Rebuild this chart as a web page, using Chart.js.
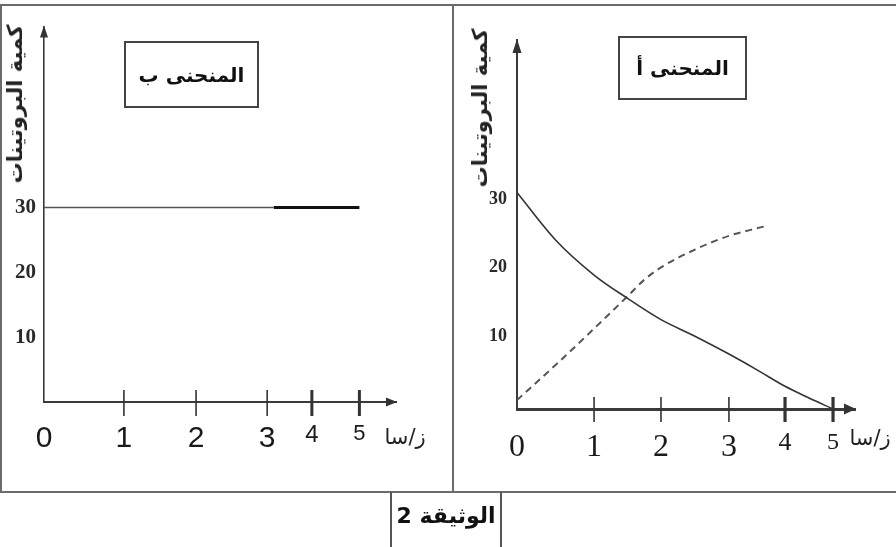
<!DOCTYPE html>
<html lang="ar">
<head>
<meta charset="utf-8">
<script src="https://cdn.jsdelivr.net/npm/chart.js@4.4.1/dist/chart.umd.min.js"></script>
<style>
  html, body { margin: 0; padding: 0; background: #fff; }
  #page { position: relative; width: 896px; height: 547px; overflow: hidden; background: #fff; }
  .rule { position: absolute; background: #6b6b6b; }
  canvas { position: absolute; }
  .ytitle { position: absolute; font-family: "DejaVu Sans", sans-serif; font-weight: bold; font-size: 21px;
            white-space: nowrap; direction: rtl; color: #222;
            transform: translate(-50%, -50%) rotate(-90deg); }
  .tag { position: absolute; box-sizing: border-box; border: 2px solid #444; display: flex;
         align-items: center; justify-content: center; font-family: "DejaVu Sans", sans-serif;
         font-weight: bold; font-size: 20px; direction: rtl; color: #111; }
  .unit { position: absolute; font-family: "DejaVu Sans", sans-serif; font-size: 21px; direction: rtl;
          color: #222; white-space: nowrap; transform: translate(-50%, -50%); }
  .caption { position: absolute; box-sizing: border-box; border-left: 2px solid #555; border-right: 2px solid #555;
             display: flex; justify-content: center; font-family: "DejaVu Sans", sans-serif; font-weight: bold;
             font-size: 22px; direction: rtl; color: #111; padding-top: 11px; }
</style>
</head>
<body>
<div id="page">
  <div class="rule" style="left:0;top:4px;width:896px;height:2px"></div>
  <div class="rule" style="left:0;top:4px;width:2px;height:489px"></div>
  <div class="rule" style="left:0;top:491px;width:896px;height:2px"></div>
  <div class="rule" style="left:452px;top:4px;width:2px;height:489px"></div>

  <canvas id="chartB" width="450" height="485" style="left:2px;top:6px"></canvas>
  <canvas id="chartA" width="442" height="485" style="left:454px;top:6px"></canvas>

  <div class="ytitle" style="left:15px;top:104px">كمية البروتينات</div>
  <div class="ytitle" style="left:480px;top:108px">كمية البروتينات</div>

  <div class="tag" style="left:124px;top:41px;width:135px;height:67px">المنحنى ب</div>
  <div class="tag" style="left:618px;top:36px;width:129px;height:64px">المنحنى أ</div>

  <div class="unit" style="left:405px;top:437px">ز/سا</div>
  <div class="unit" style="left:870px;top:438px">ز/سا</div>

  <div class="caption" style="left:390px;top:492px;width:112px;height:60px">الوثيقة 2</div>
</div>

<script>
// ---------- data ----------
const xTickValues = [0, 1, 2, 3, 4, 5];
const yTickValues = [10, 20, 30];

// curve B (left panel): constant protein amount
const timeB = [0, 3.15, 5];
const proteinB = [30, 30, 30];

// curve A (right panel): solid decreasing curve
const timeA1 = [0, 0.5, 1, 1.5, 2, 2.5, 3, 3.5, 4, 4.5, 5];
const proteinA1 = [31.5, 24.6, 19.5, 16.1, 13.0, 10.6, 8.0, 5.7, 3.3, 1.6, 0];

// curve A (right panel): dashed increasing curve
const timeA2 = [0, 0.5, 1, 1.5, 1.75, 2, 2.5, 3, 3.5, 3.65];
const proteinA2 = [1.3, 6.4, 11.7, 16.4, 18.8, 20.6, 23.2, 25.2, 26.3, 26.6];

// ---------- hand-drawn axis spacing (scale layout, not data) ----------
const AXIS_WARP = {
  B: { values: [0, 1, 2, 3, 4, 5, 5.6], fractions: [0, 0.227, 0.432, 0.634, 0.761, 0.896, 1] },
  A: { values: [0, 1, 2, 3, 4, 5, 5.6], fractions: [0, 0.228, 0.426, 0.627, 0.793, 0.935, 1] }
};

class WarpScale extends Chart.LinearScale {
  static id = 'warp';
  _warp() { return AXIS_WARP[this.chart.canvas.id.slice(-1)]; }
  getPixelForValue(value) {
    if (value === null || value === undefined || Number.isNaN(+value)) return NaN;
    const w = this._warp();
    const vs = w.values, fs = w.fractions;
    let i = 0;
    while (i < vs.length - 2 && value > vs[i + 1]) i++;
    const t = (value - vs[i]) / (vs[i + 1] - vs[i]);
    return this.getPixelForDecimal(fs[i] + t * (fs[i + 1] - fs[i]));
  }
  getValueForPixel(pixel) {
    const d = this.getDecimalForPixel(pixel);
    const w = this._warp();
    const vs = w.values, fs = w.fractions;
    let i = 0;
    while (i < fs.length - 2 && d > fs[i + 1]) i++;
    const t = (d - fs[i]) / (fs[i + 1] - fs[i]);
    return vs[i] + t * (vs[i + 1] - vs[i]);
  }
}
Chart.register(WarpScale);

const toPoints = (xs, ys) => xs.map((x, i) => ({ x, y: ys[i] }));

const axisDecor = {
  id: 'axisDecor',
  afterDraw(chart, args, o) {
    const { ctx, chartArea: { left, right, top, bottom } } = chart;
    const xs = chart.scales.x;
    ctx.save();
    ctx.strokeStyle = o.color;
    ctx.fillStyle = o.color;
    xs.ticks.forEach((t, i) => {
      if (t.value === 0) return;
      const px = xs.getPixelForTick(i);
      ctx.lineWidth = t.value >= 4 ? o.boldTick : o.tick;
      ctx.beginPath();
      ctx.moveTo(px, bottom - o.tickUp);
      ctx.lineTo(px, bottom + o.tickDown);
      ctx.stroke();
    });
    // x arrow head
    ctx.beginPath();
    ctx.moveTo(right + 1, bottom);
    ctx.lineTo(right - o.xArrowLen, bottom - o.xArrowHalf);
    ctx.lineTo(right - o.xArrowLen, bottom + o.xArrowHalf);
    ctx.closePath();
    ctx.fill();
    // y arrow head
    ctx.beginPath();
    ctx.moveTo(left, top - 1);
    ctx.lineTo(left - o.yArrowHalf, top + o.yArrowLen);
    ctx.lineTo(left + o.yArrowHalf, top + o.yArrowLen);
    ctx.closePath();
    ctx.fill();
    ctx.restore();
  }
};

function baseOptions(p) {
  return {
    responsive: false,
    animation: false,
    events: [],
    layout: { padding: p.padding },
    plugins: {
      legend: { display: false },
      tooltip: { enabled: false },
      axisDecor: p.decor
    },
    scales: {
      x: {
        type: 'warp',
        min: 0, max: 5.6,
        afterFit: s => { s.height = p.xHeight; },
        afterBuildTicks: s => { s.ticks = xTickValues.map(v => ({ value: v })); },
        grid: { display: false, drawTicks: false },
        border: { display: true, color: '#3a3a3a', width: p.xBorder },
        ticks: {
          autoSkip: false, maxRotation: 0, minRotation: 0,
          padding: p.xPad, color: '#1a1a1a',
          callback: v => String(v),
          font: c => ({ family: p.xFamily, size: p.xSizes[c.tick ? c.tick.value : 0] || p.xSizes.d })
        }
      },
      y: {
        type: 'linear',
        min: 0, max: p.yMax,
        afterFit: s => { s.width = p.yWidth; },
        afterBuildTicks: s => { s.ticks = yTickValues.map(v => ({ value: v })); },
        grid: { display: false, drawTicks: false },
        border: { display: true, color: '#3a3a3a', width: p.yBorder },
        ticks: {
          padding: p.yPad, color: '#2a2a2a', labelOffset: p.yLabelOffset,
          callback: v => String(v),
          font: { family: 'Liberation Serif', size: p.ySize, weight: 'bold' }
        }
      }
    }
  };
}

new Chart(document.getElementById('chartB'), {
  type: 'line',
  data: {
    datasets: [{
      data: toPoints(timeB, proteinB),
      borderColor: '#444',
      borderWidth: 1.6,
      pointRadius: 0,
      segment: {
        borderWidth: c => c.p0DataIndex === 1 ? 3.2 : 1.6,
        borderColor: c => c.p0DataIndex === 1 ? '#111' : '#555'
      }
    }]
  },
  options: baseOptions({
    padding: { left: 0, top: 16, right: 56, bottom: 0 },
    xHeight: 89, yWidth: 42, yMax: 57.9,
    xBorder: 2, yBorder: 1.6, xPad: 19, yPad: 8, ySize: 21, yLabelOffset: 0,
    xFamily: "'Liberation Sans Narrow', 'Liberation Sans', sans-serif",
    xSizes: { d: 30, 4: 24, 5: 22 },
    decor: { color: '#333', tick: 1.6, boldTick: 3, tickUp: 12, tickDown: 14,
             xArrowLen: 10, xArrowHalf: 4.5, yArrowLen: 11, yArrowHalf: 4 }
  }),
  plugins: [axisDecor]
});

new Chart(document.getElementById('chartA'), {
  type: 'line',
  data: {
    datasets: [{
      data: toPoints(timeA1, proteinA1),
      borderColor: '#333',
      borderWidth: 1.6,
      pointRadius: 0,
      cubicInterpolationMode: 'monotone'
    }, {
      data: toPoints(timeA2, proteinA2),
      borderColor: '#555',
      borderWidth: 2,
      borderDash: [7, 5],
      pointRadius: 0,
      cubicInterpolationMode: 'monotone'
    }]
  },
  options: baseOptions({
    padding: { left: 0, top: 34, right: 41, bottom: 0 },
    xHeight: 82, yWidth: 63, yMax: 53.7,
    xBorder: 3, yBorder: 2, xPad: 19, yPad: 10, ySize: 18, yLabelOffset: -4,
    xFamily: "'Liberation Serif', serif",
    xSizes: { d: 32, 4: 26, 5: 24 },
    decor: { color: '#333', tick: 1.6, boldTick: 3.2, tickUp: 12, tickDown: 13,
             xArrowLen: 11, xArrowHalf: 5.5, yArrowLen: 13, yArrowHalf: 4.5 }
  }),
  plugins: [axisDecor]
});
</script>
</body>
</html>
